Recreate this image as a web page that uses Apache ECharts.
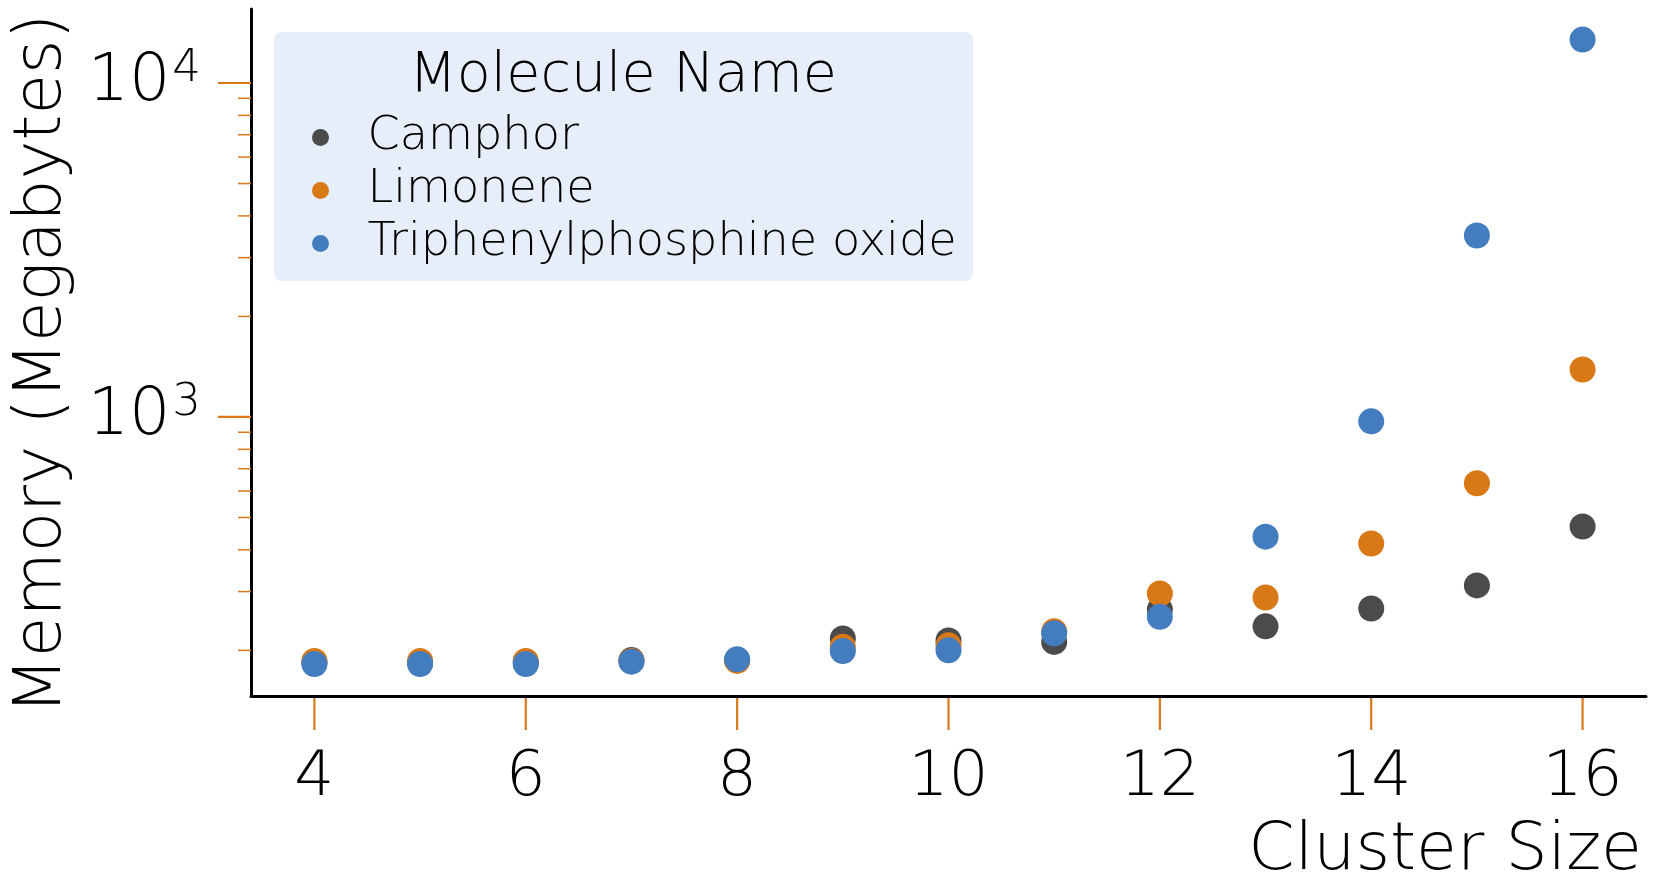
<!DOCTYPE html>
<html>
<head>
<meta charset="utf-8">
<script src="https://cdn.jsdelivr.net/npm/echarts@6/dist/echarts.min.js"></script>
<style>
  html, body { margin: 0; padding: 0; background: #fff; }
  #chart { width: 1658px; height: 880px; }
</style>
</head>
<body>
<div id="chart"></div>
<script>
// cluster size on x, memory in MB on y (log)
const clusterSizes = [4, 5, 6, 7, 8, 9, 10, 11, 12, 13, 14, 15, 16];
const camphor = [184, 184, 184, 187, 187, 217, 214, 212, 265, 236, 267, 313, 470];
const limonene = [186, 186, 186, 186, 186, 205, 207, 228, 296, 288, 418, 633, 1387];
const triphenylphosphineOxide = [182, 182, 182, 185, 188, 199, 200, 225, 252, 438, 970, 3494, 13490];

const xTickValues = [4, 6, 8, 10, 12, 14, 16];
const yMajorTicks = [1000, 10000];
const yMinorTicks = [200, 300, 400, 500, 600, 700, 800, 900, 2000, 3000, 4000, 5000, 6000, 7000, 8000, 9000];

const xMin = 3.4, xMax = 16.6;
const yMin = 146, yMax = 16660;

const FONT = 'DejaVu Sans';
const tickColor = '#d9791a';
const colors = ['#4b4b4b', '#d97817', '#437dc0'];

function pairs(ys) {
  return clusterSizes.map((x, i) => [x, ys[i]]);
}

const chart = echarts.init(document.getElementById('chart'));

const textBase = { fontFamily: FONT, fontWeight: 200, color: '#000' };

chart.setOption({
  animation: false,
  grid: { left: 251, right: 12, top: 9, bottom: 184, containLabel: false, outerBoundsMode: 'none' },
  title: {
    text: 'Molecule Name',
    left: 618,
    top: 44,
    textAlign: 'center',
    textStyle: Object.assign({ fontSize: 55.5 }, textBase)
  },
  graphic: [{
    type: 'rect',
    z: -10,
    shape: { x: 274, y: 32, width: 699, height: 249, r: 8 },
    style: { fill: '#e6eef9' }
  }],
  legend: {
    data: ['Camphor', 'Limonene', 'Triphenylphosphine oxide'],
    orient: 'vertical',
    left: 307,
    top: 106,
    icon: 'circle',
    itemWidth: 84,
    itemHeight: 17,
    itemGap: 0,
    selectedMode: false,
    textStyle: Object.assign({ fontSize: 46.2, lineHeight: 53 }, textBase)
  },
  xAxis: {
    type: 'value',
    min: xMin,
    max: xMax,
    minInterval: 2,
    maxInterval: 2,
    name: 'Cluster Size',
    nameLocation: 'end',
    nameGap: -4,
    nameTextStyle: Object.assign({ fontSize: 66.5, align: 'right', verticalAlign: 'top', padding: [122, 0, 0, 0] }, textBase),
    axisLine: { show: true, lineStyle: { color: '#000', width: 3 } },
    axisTick: { show: false },
    splitLine: { show: false },
    axisLabel: Object.assign({
      fontSize: 63,
      margin: 51,
      formatter: v => xTickValues.includes(v) ? String(v) : ''
    }, textBase)
  },
  yAxis: {
    type: 'log',
    logBase: 10,
    min: yMin,
    max: yMax,
    name: 'Memory (Megabytes)',
    nameLocation: 'middle',
    nameRotate: 90,
    nameGap: 175,
    nameTextStyle: Object.assign({ fontSize: 66, padding: [0, 23, 0, 0] }, textBase),
    axisLine: { show: true, lineStyle: { color: '#000', width: 3 } },
    axisTick: { show: false },
    splitLine: { show: false },
    axisLabel: {
      margin: 50,
      formatter: v => {
        const e = Math.log10(v);
        const r = Math.round(e);
        if (Math.abs(e - r) > 1e-6) return '';
        return '{b|10}{e|' + r + '}';
      },
      rich: {
        b: Object.assign({ fontSize: 65, lineHeight: 72 }, textBase),
        e: Object.assign({ fontSize: 45, lineHeight: 45, verticalAlign: 'top', padding: [0, 0, 0, 2] }, textBase)
      }
    }
  },
  series: [
    {
      name: 'Camphor', type: 'scatter', symbolSize: 26,
      itemStyle: { color: colors[0], opacity: 1 },
      data: pairs(camphor), z: 3
    },
    {
      name: 'Limonene', type: 'scatter', symbolSize: 26,
      itemStyle: { color: colors[1], opacity: 1 },
      data: pairs(limonene), z: 4
    },
    {
      name: 'Triphenylphosphine oxide', type: 'scatter', symbolSize: 26,
      itemStyle: { color: colors[2], opacity: 1 },
      data: pairs(triphenylphosphineOxide), z: 5
    },
    {
      // y ticks (major + minor), drawn outward from the left spine
      type: 'custom', silent: true, z: 1,
      data: yMajorTicks.map(v => [xMin, v, 1]).concat(yMinorTicks.map(v => [xMin, v, 0])),
      renderItem: (params, api) => {
        const cs = params.coordSys;
        const p = api.coord([api.value(0), api.value(1)]);
        const major = api.value(2) === 1;
        const len = major ? 33 : 13;
        return {
          type: 'line',
          shape: { x1: cs.x - len, y1: p[1], x2: cs.x, y2: p[1] },
          style: { stroke: tickColor, lineWidth: major ? 2.2 : 1.5 }
        };
      }
    },
    {
      // x ticks
      type: 'custom', silent: true, z: 1,
      data: xTickValues.map(v => [v, yMin]),
      renderItem: (params, api) => {
        const cs = params.coordSys;
        const p = api.coord([api.value(0), api.value(1)]);
        const y0 = cs.y + cs.height;
        return {
          type: 'line',
          shape: { x1: p[0], y1: y0 + 2, x2: p[0], y2: y0 + 34 },
          style: { stroke: tickColor, lineWidth: 2.2 }
        };
      }
    }
  ]
});
</script>
</body>
</html>
